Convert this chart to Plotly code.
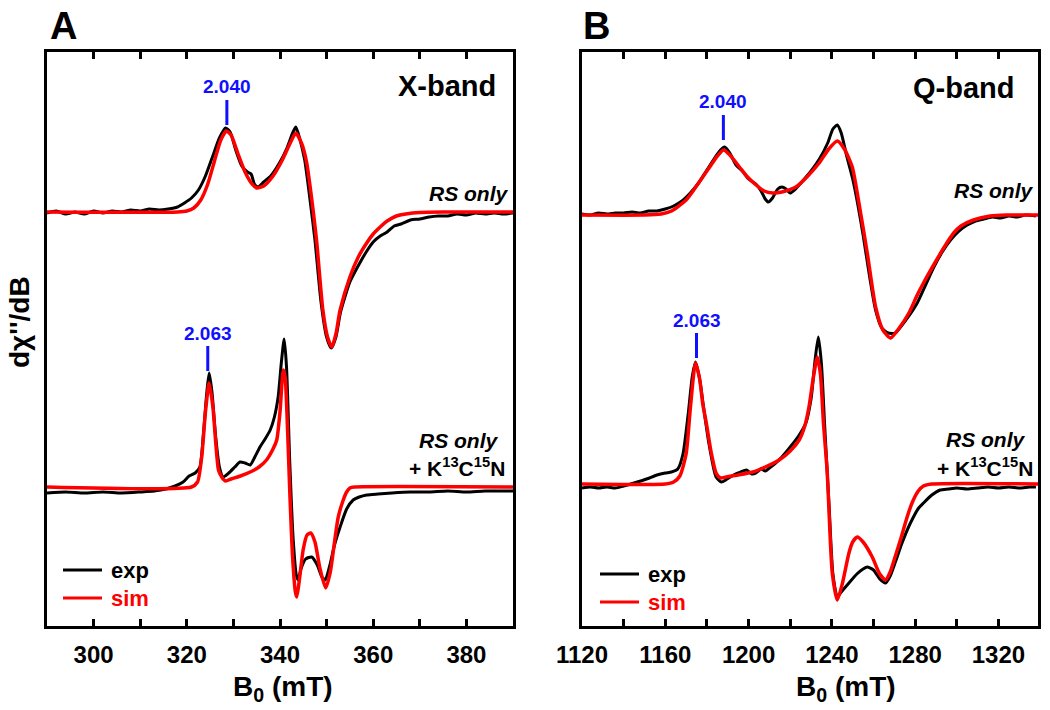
import plotly.graph_objects as go

# X-band, RS only
XB_RS_FIELD_EXP = [290, 292, 294, 296, 298, 300, 302, 304, 306, 308, 310, 312, 314, 316, 318,
                   319.5, 321, 322.5, 324, 325.5, 327, 328.3, 329.3, 330.5, 331.8, 333, 333.8,
                   334.5, 335.3, 336.5, 338, 340, 341.5, 342.8, 343.4, 344.2, 345.3, 346.5,
                   347.5, 348.8, 350, 351, 352, 353, 355, 357, 358.5, 360, 361.5, 363, 364.5,
                   366, 368, 370, 372, 374, 376, 378, 380, 382, 384, 386, 388, 390]
XB_RS_EXP = [-1, 1, -2, 0, -2, 1, -1, 1, 0, 2, 1, 3, 2, 3, 5,
             9, 14, 22, 36, 55, 74, 84, 80, 62, 46, 40, 38,
             28, 25, 30, 36, 50, 64, 80, 85, 74, 52, 10,
             -28, -90, -125, -136, -125, -100, -70, -52, -40, -30, -24, -20, -14,
             -12, -8, -7, -5, -4, -4, -2, -3, -1, -2, -1, -2, -1]
XB_RS_FIELD_SIM = [290, 318, 320, 321.5, 323, 324.5, 326, 327.3, 328.5, 329.5, 331, 332.5, 334,
                   335, 336.5, 338.5, 340.5, 342.3, 343.4, 344.6, 345.7, 347.1, 347.9, 349.2,
                   350.2, 351.1, 352, 352.9, 355, 356.8, 358.6, 360, 361.5, 363, 365, 367,
                   370, 375, 390]
XB_RS_SIM = [0, 0, 1, 4, 12, 28, 52, 72, 81, 77, 58, 40, 28,
             24, 26, 36, 52, 70, 79, 69, 50, 2, -31, -98,
             -125, -135, -122, -98, -65, -45, -31, -22, -15, -9, -4, -2,
             -0.5, 0, 0]

# X-band, RS only + K13C15N
XB_CN_FIELD_EXP = [290, 294, 298, 302, 306, 310, 313, 315.5, 317.5, 319.2, 320.5, 321.8, 322.8,
                   323.6, 324.3, 324.8, 325.4, 326.2, 327, 327.8, 329, 330.3, 331.4, 332.5,
                   333.6, 334.6, 335.7, 336.8, 337.9, 338.8, 339.6, 340.3, 340.9, 341.4, 342.1,
                   342.8, 343.5, 343.9, 344.5, 345.5, 346.8, 348, 349, 349.7, 350.6, 351.7,
                   352.9, 354.3, 355.7, 357, 358.6, 361, 364, 368, 372, 376, 380, 384, 390]
XB_CN_EXP = [-6, -5, -6, -5, -6, -5, -4, -2, 1, 5, 11, 14, 20,
             55, 95, 114, 95, 50, 20, 10, 14, 20, 25, 24,
             22, 30, 40, 48, 57, 70, 90, 125, 148, 120, 24,
             -50, -88, -93, -82, -72, -70, -78, -90, -93, -80, -58,
             -40, -22, -13, -10, -8, -7, -6, -5, -5, -4, -5, -4, -4]
XB_CN_FIELD_SIM = [290, 321, 322.3, 323.2, 324, 324.8, 325.6, 326.8, 327.5, 328.3, 329.5, 331.5,
                   333.6, 335.5, 337.1, 338.5, 339.3, 340, 340.7, 341.1, 341.6, 342.1, 342.7,
                   343.3, 343.6, 344.1, 345, 345.8, 346.6, 347.5, 348.6, 349.8, 350.8, 351.7,
                   352.5, 353.5, 354.3, 355, 356, 390]
XB_CN_SIM = [0, 0, 5, 30, 75, 104, 80, 17, 10, 6, 8, 11,
             15, 20, 27, 38, 47, 75, 117, 110, 60, -5, -70,
             -105, -110, -95, -62, -48, -46, -55, -82, -101, -85, -55,
             -30, -14, -5, -1, 0, 0]

# Q-band, RS only
QB_RS_FIELD_EXP = [1120, 1124, 1128, 1132, 1136, 1140, 1144, 1148, 1152, 1156, 1160, 1164, 1168,
                   1172, 1176, 1180, 1184, 1186.5, 1188.5, 1191, 1194, 1197, 1200, 1203.5, 1206,
                   1208, 1209.5, 1211.5, 1214, 1216, 1218, 1220, 1222, 1226, 1230, 1234, 1238,
                   1240.5, 1242.6, 1244.5, 1247, 1250, 1252.5, 1255, 1258, 1261, 1264, 1267,
                   1270.5, 1273, 1277, 1281, 1285, 1289, 1293, 1297, 1301, 1305, 1309, 1313,
                   1317, 1321, 1325, 1329, 1333, 1338]
QB_RS_EXP = [1, 0, 2, 1, 2, 2, 3, 2, 4, 4, 6, 9, 14,
             22, 32, 45, 58, 65, 68, 62, 50, 44, 36, 31, 24,
             16, 13, 17, 26, 28, 26, 22, 25, 34, 44, 56, 72,
             86, 90, 82, 60, 36, 10, -20, -60, -95, -113, -118,
             -118, -112, -101, -88, -70, -52, -37, -25, -16, -10, -6, -4,
             -2, -3, -1, -2, 0, -1]
QB_RS_FIELD_SIM = [1120, 1150, 1158, 1163, 1170, 1174, 1178, 1182, 1185, 1188, 1191, 1195.6,
                   1199.5, 1203.6, 1207.5, 1211.5, 1216, 1222.7, 1228, 1233.9, 1238.5, 1242.6,
                   1246, 1249.8, 1253, 1257, 1261, 1264.5, 1268.2, 1272, 1277, 1281, 1284,
                   1290, 1294, 1298.5, 1302, 1308, 1316, 1324, 1340]
QB_RS_SIM = [0, 0, 1, 4, 15, 26, 38, 50, 59, 65, 60, 48,
             38, 30, 24, 22, 23, 28, 38, 52, 66, 74,
             66, 48, 12, -38, -92, -115, -123, -114, -98, -80, -68,
             -46, -32, -18, -11, -5, -1, 0, 0]

# Q-band, RS only + K13C15N
QB_CN_FIELD_EXP = [1120, 1124, 1128, 1132, 1136, 1140, 1145, 1151, 1156, 1160, 1163, 1166, 1168.5,
                   1171, 1173, 1174.5, 1176.5, 1178.5, 1181, 1184.4, 1187, 1189, 1192, 1195, 1199,
                   1201.5, 1203.6, 1206, 1208, 1210, 1213, 1216, 1220, 1224, 1227.5, 1230, 1232,
                   1233.5, 1235, 1236.5, 1238.7, 1240.5, 1242.6, 1244.5, 1248.2, 1252, 1255,
                   1257, 1260, 1263, 1265.8, 1268, 1270.5, 1273.7, 1277.5, 1281.7, 1284, 1288,
                   1292, 1296, 1300, 1305, 1310, 1315, 1320, 1325, 1330, 1335, 1338]
QB_CN_EXP = [-4, -3, -4, -3, -4, -2, 1, 5, 9, 11, 12, 15, 30,
             70, 108, 122, 105, 75, 40, 7, 2, 4, 8, 11, 14,
             10, 11, 15, 13, 16, 21, 27, 37, 48, 61, 85, 125,
             147, 120, 60, -23, -90, -113, -108, -99, -90, -85,
             -83, -86, -95, -99, -92, -78, -59, -40, -24, -19, -11,
             -6, -5, -4, -5, -4, -3, -4, -3, -4, -3, -3]
QB_CN_FIELD_SIM = [1120, 1160, 1164, 1167, 1170, 1172, 1174.5, 1176.5, 1178, 1179.7, 1182, 1184.4,
                   1186.5, 1189.2, 1195, 1202, 1208, 1214.7, 1220, 1224.3, 1227, 1229, 1231,
                   1233, 1234.5, 1236, 1237.8, 1239, 1240.2, 1242.6, 1245, 1248.2, 1250, 1252.2,
                   1255, 1259.4, 1263, 1265.8, 1268, 1270.5, 1273.5, 1276, 1278.5, 1281.5, 1284,
                   1288, 1340]
QB_CN_SIM = [0, 0, 2, 8, 30, 75, 121, 105, 80, 61, 32, 11,
             6, 7, 9, 12, 17, 24, 33, 44, 58, 77, 105,
             127, 110, 60, 11, -45, -89, -116, -100, -69, -58, -53,
             -58, -73, -90, -96, -88, -72, -52, -34, -19, -7, -2,
             0, 0]

X_TICKS = [300, 320, 340, 360, 380]
Q_TICKS = [1120, 1160, 1200, 1240, 1280, 1320]

# the page body has an 8px margin, so the figure is 8px smaller than the window on each axis
PAGE_PAD = 8
W, H = 1050 - PAGE_PAD, 710 - PAGE_PAD
FONT = "Liberation Sans, Arial, sans-serif"
RED = "#FF0000"
BLUE = "#1010FF"

# vertical offsets of the two spectra in each panel (axis units = pixels above frame bottom)
OFFSETS = {"x": (414, 139), "q": (411, 142)}


def px(x):
    return (x - PAGE_PAD) / W


def py(y):
    return 1 - (y - PAGE_PAD) / H


def shifted(values, offset):
    return [v + offset for v in values]


def add_panel(fig, xref, yref, curves, offsets):
    (f_rs_e, rs_e, f_rs_s, rs_s), (f_cn_e, cn_e, f_cn_s, cn_s) = curves
    top, bottom = offsets
    for f, v, off in [(f_rs_e, rs_e, top), (f_cn_e, cn_e, bottom)]:
        fig.add_trace(
            go.Scatter(x=f, y=shifted(v, off), mode="lines", xaxis=xref, yaxis=yref,
                       line=dict(color="black", width=3, shape="spline", smoothing=0.6),
                       showlegend=False, hoverinfo="skip")
        )
    for f, v, off in [(f_rs_s, rs_s, top), (f_cn_s, cn_s, bottom)]:
        fig.add_trace(
            go.Scatter(x=f, y=shifted(v, off), mode="lines", xaxis=xref, yaxis=yref,
                       line=dict(color=RED, width=3.5, shape="spline", smoothing=0.6),
                       showlegend=False, hoverinfo="skip")
        )


fig = go.Figure()
add_panel(fig, "x", "y",
          [(XB_RS_FIELD_EXP, XB_RS_EXP, XB_RS_FIELD_SIM, XB_RS_SIM),
           (XB_CN_FIELD_EXP, XB_CN_EXP, XB_CN_FIELD_SIM, XB_CN_SIM)], OFFSETS["x"])
add_panel(fig, "x2", "y2",
          [(QB_RS_FIELD_EXP, QB_RS_EXP, QB_RS_FIELD_SIM, QB_RS_SIM),
           (QB_CN_FIELD_EXP, QB_CN_EXP, QB_CN_FIELD_SIM, QB_CN_SIM)], OFFSETS["q"])

y_dom = [py(626), py(52)]
axis_common = dict(
    showline=True, linewidth=3, linecolor="black", mirror="allticks",
    showgrid=False, zeroline=False, ticks="inside", ticklen=7, tickwidth=2.5,
    tickcolor="black", ticklabelposition="outside", ticklabelstandoff=5, automargin=False,
    tickfont=dict(family=FONT, size=24, color="black", weight="bold"),
)
y_common = dict(showline=True, linewidth=3, linecolor="black", mirror=True,
                showgrid=False, zeroline=False, showticklabels=False, ticks="",
                range=[0, 574], fixedrange=True, automargin=False)

fig.update_layout(
    width=W, height=H,
    margin=dict(l=0, r=0, t=0, b=0, autoexpand=False),
    paper_bgcolor="white", plot_bgcolor="white",
    xaxis=dict(domain=[px(47), px(513)], range=[290, 390], tickvals=X_TICKS,
               minor=dict(dtick=10, ticks="inside", ticklen=7, tickwidth=2.5, tickcolor="black"),
               anchor="y", **axis_common),
    xaxis2=dict(domain=[px(582), px(1038)], range=[1120, 1339], tickvals=Q_TICKS,
                minor=dict(dtick=20, ticks="inside", ticklen=7, tickwidth=2.5, tickcolor="black"),
                anchor="y2", **axis_common),
    yaxis=dict(domain=y_dom, anchor="x", **y_common),
    yaxis2=dict(domain=y_dom, anchor="x2", **y_common),
)


def text(t, x, y, size, color="black", xanchor="center", italic=False, angle=0):
    fig.add_annotation(
        text=t, x=px(x), y=py(y), xref="paper", yref="paper", showarrow=False,
        xanchor=xanchor, yanchor="middle", textangle=angle,
        font=dict(family=FONT, size=size, color=color, weight="bold",
                  style="italic" if italic else "normal"),
    )


def g_marker(label, field, y_top, xref, yref):
    # short blue tick above a peak with its g-value
    fig.add_shape(type="line", xref=xref, yref=yref, x0=field, x1=field,
                  y0=y_top - 25, y1=y_top, line=dict(color=BLUE, width=3))
    fig.add_annotation(text=label, x=field, y=y_top + 13, xref=xref, yref=yref,
                       showarrow=False, yanchor="middle",
                       font=dict(family=FONT, size=19, color=BLUE, weight="bold"))


text("A", 63, 26, 38)
text("B", 596, 26, 38)
text("X-band", 498, 86, 29, xanchor="right")
text("Q-band", 1017, 88, 29, xanchor="right")
text("RS only", 510, 193, 21, xanchor="right", italic=True)
text("RS only", 1035, 191, 21, xanchor="right", italic=True)
text("RS only", 500, 440, 21, xanchor="right", italic=True)
text("RS only", 1027, 439, 21, xanchor="right", italic=True)
text("+ K<sup>13</sup>C<sup>15</sup>N", 507, 467, 21, xanchor="right")
text("+ K<sup>13</sup>C<sup>15</sup>N", 1035, 467, 21, xanchor="right")
text("B<sub>0</sub> (mT)", 283, 688, 28)
text("B<sub>0</sub> (mT)", 846, 688, 28)
text("dχ''/dB", 19, 322, 28, angle=-90)

g_marker("2.040", 328.6, 526, "x", "y")
g_marker("2.063", 324.5, 280, "x", "y")
g_marker("2.040", 1187.9, 511, "x2", "y2")
g_marker("2.063", 1175, 293, "x2", "y2")

# hand-drawn legends in the lower-left corner of each panel
for x0, y0 in [(63, 570), (600, 574)]:
    for dy, color, label in [(0, "black", "exp"), (28, RED, "sim")]:
        fig.add_shape(type="line", xref="paper", yref="paper",
                      x0=px(x0), x1=px(x0 + 39), y0=py(y0 + dy), y1=py(y0 + dy),
                      line=dict(color=color, width=3))
        text(label, x0 + 46, y0 + dy, 22, color=color, xanchor="left")

fig.write_html("out.html")
